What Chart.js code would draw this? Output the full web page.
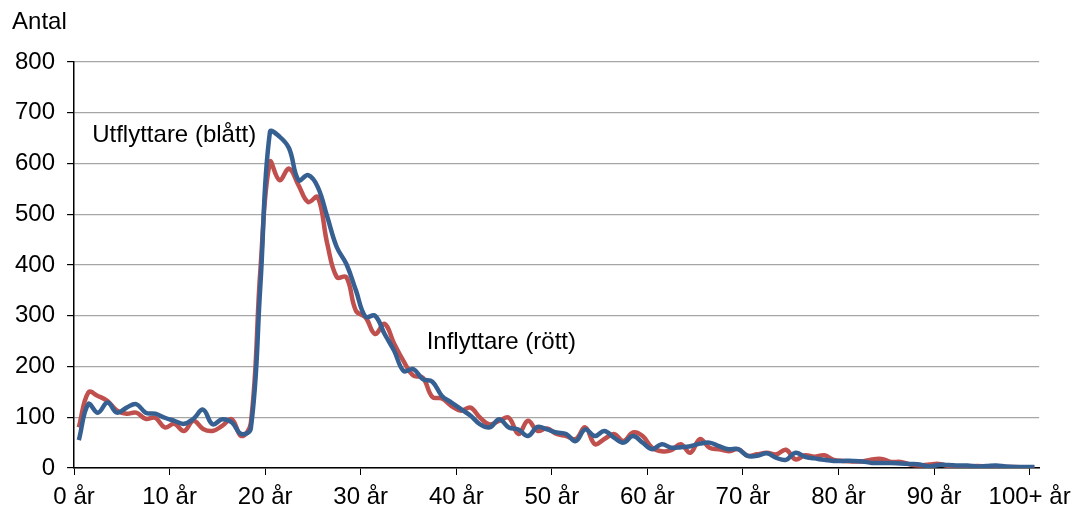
<!DOCTYPE html>
<html>
<head>
<meta charset="utf-8">
<script src="https://cdn.jsdelivr.net/npm/chart.js@4.4.1/dist/chart.umd.min.js"></script>
<style>
  html, body { margin: 0; padding: 0; background: #fff; }
  #wrap { width: 1081px; height: 506px; }
</style>
</head>
<body>
<div id="wrap"><canvas id="migChart"></canvas></div>
<script>
// Ålder 0..100+ (ett värde per ettårsklass)
const ages = Array.from({ length: 101 }, (_, i) => i);

const utflyttare = [
    55, 126, 109, 129, 109, 119, 126, 109, 107, 99,
    93, 87, 97, 115, 86, 96, 90, 67, 78, 360,
    662, 653, 630, 567, 577, 554, 495, 435, 402, 350,
    298, 300, 264, 231, 191, 195, 175, 170, 142, 129,
    116, 103, 86, 80, 96, 80, 76, 63, 81, 76,
    70, 67, 53, 76, 63, 73, 60, 50, 63, 50,
    37, 47, 40, 41, 43, 48, 50, 43, 37, 37,
    24, 24, 29, 20, 16, 30, 22, 19, 16, 14,
    14, 14, 13, 10, 10, 10, 9, 8, 7, 3,
    6, 6, 5, 5, 3, 4, 5, 3, 2, 2, 2
];

const inflyttare = [
    80, 149, 142, 132, 113, 107, 109, 97, 99, 80,
    87, 73, 93, 77, 73, 83, 96, 63, 88, 390,
    603, 567, 590, 557, 524, 534, 442, 376, 376, 310,
    297, 264, 284, 245, 210, 182, 178, 140, 137, 122,
    113, 119, 99, 86, 93, 99, 67, 93, 73, 78,
    67, 63, 57, 80, 47, 57, 67, 53, 70, 63,
    40, 33, 35, 47, 30, 57, 40, 37, 33, 37,
    24, 27, 30, 27, 36, 17, 25, 22, 25, 16,
    14, 13, 13, 17, 18, 12, 12, 7, 5, 7,
    8, 4, 3, 3, 4, 3, 3, 2, 2, 1, 1
];

const yTicks = [0, 100, 200, 300, 400, 500, 600, 700, 800];
const xTickAges = [0, 10, 20, 30, 40, 50, 60, 70, 80, 90, 100];

const labels = [
    { text: 'Utflyttare (blått)', x: 1.4, y: 656 },
    { text: 'Inflyttare (rött)', x: 36.4, y: 247 }
];

const FONT = "'Liberation Sans', Arial, sans-serif";

// skriver ut axeltitel och seriernas namn i diagrammet
const textLabels = {
    id: 'textLabels',
    afterDatasetsDraw(chart) {
        const { ctx, scales, chartArea } = chart;
        ctx.save();
        ctx.font = '24px ' + FONT;
        ctx.fillStyle = '#000';
        ctx.textBaseline = 'middle';
        ctx.textAlign = 'left';
        ctx.fillText('Antal', chartArea.left - 62, chartArea.top - 40);
        labels.forEach(l => {
            ctx.fillText(l.text, scales.x.getPixelForValue(l.x), scales.y.getPixelForValue(l.y));
        });
        ctx.restore();
    }
};

const ctx = document.getElementById('migChart').getContext('2d');

new Chart(ctx, {
    type: 'line',
    data: {
        datasets: [
            {
                label: 'Utflyttare',
                data: ages.map((a, i) => ({ x: a, y: utflyttare[i] })),
                borderColor: 'rgb(55, 96, 146)',
                borderWidth: 4.5,
                pointRadius: 0,
                tension: 0.4,
                fill: false
            },
            {
                label: 'Inflyttare',
                data: ages.map((a, i) => ({ x: a, y: inflyttare[i] })),
                borderColor: 'rgb(192, 80, 77)',
                borderWidth: 4.5,
                pointRadius: 0,
                tension: 0.4,
                fill: false
            }
        ]
    },
    options: {
        responsive: true,
        maintainAspectRatio: false,
        animation: false,
        layout: { padding: { left: 3, right: 37, top: 62, bottom: -13 } },
        plugins: {
            legend: { display: false },
            tooltip: { enabled: false },
            title: { display: false }
        },
        scales: {
            x: {
                type: 'linear',
                min: -0.5,
                max: 100.5,
                afterBuildTicks(axis) {
                    axis.ticks = xTickAges.map(a => ({ value: a - 0.5 }));
                },
                grid: {
                    drawOnChartArea: false,
                    drawTicks: true,
                    tickLength: 7,
                    tickColor: '#000'
                },
                border: { color: '#000', width: 1.5 },
                ticks: {
                    color: '#000',
                    font: { family: FONT, size: 24, lineHeight: 1.0 },
                    padding: 10,
                    maxRotation: 0,
                    autoSkip: false,
                    callback(v) {
                        const a = Math.round(v + 0.5);
                        return a === 100 ? '100+ år' : a + ' år';
                    }
                }
            },
            y: {
                min: 0,
                max: 800,
                afterBuildTicks(axis) {
                    axis.ticks = yTicks.map(v => ({ value: v }));
                },
                grid: {
                    color: '#a6a6a6',
                    lineWidth: 1.2,
                    tickLength: 7,
                    tickColor: '#000'
                },
                border: { color: '#000', width: 1.5 },
                ticks: {
                    color: '#000',
                    font: { family: FONT, size: 24 },
                    padding: 12
                }
            }
        }
    },
    plugins: [textLabels]
});
</script>
</body>
</html>
